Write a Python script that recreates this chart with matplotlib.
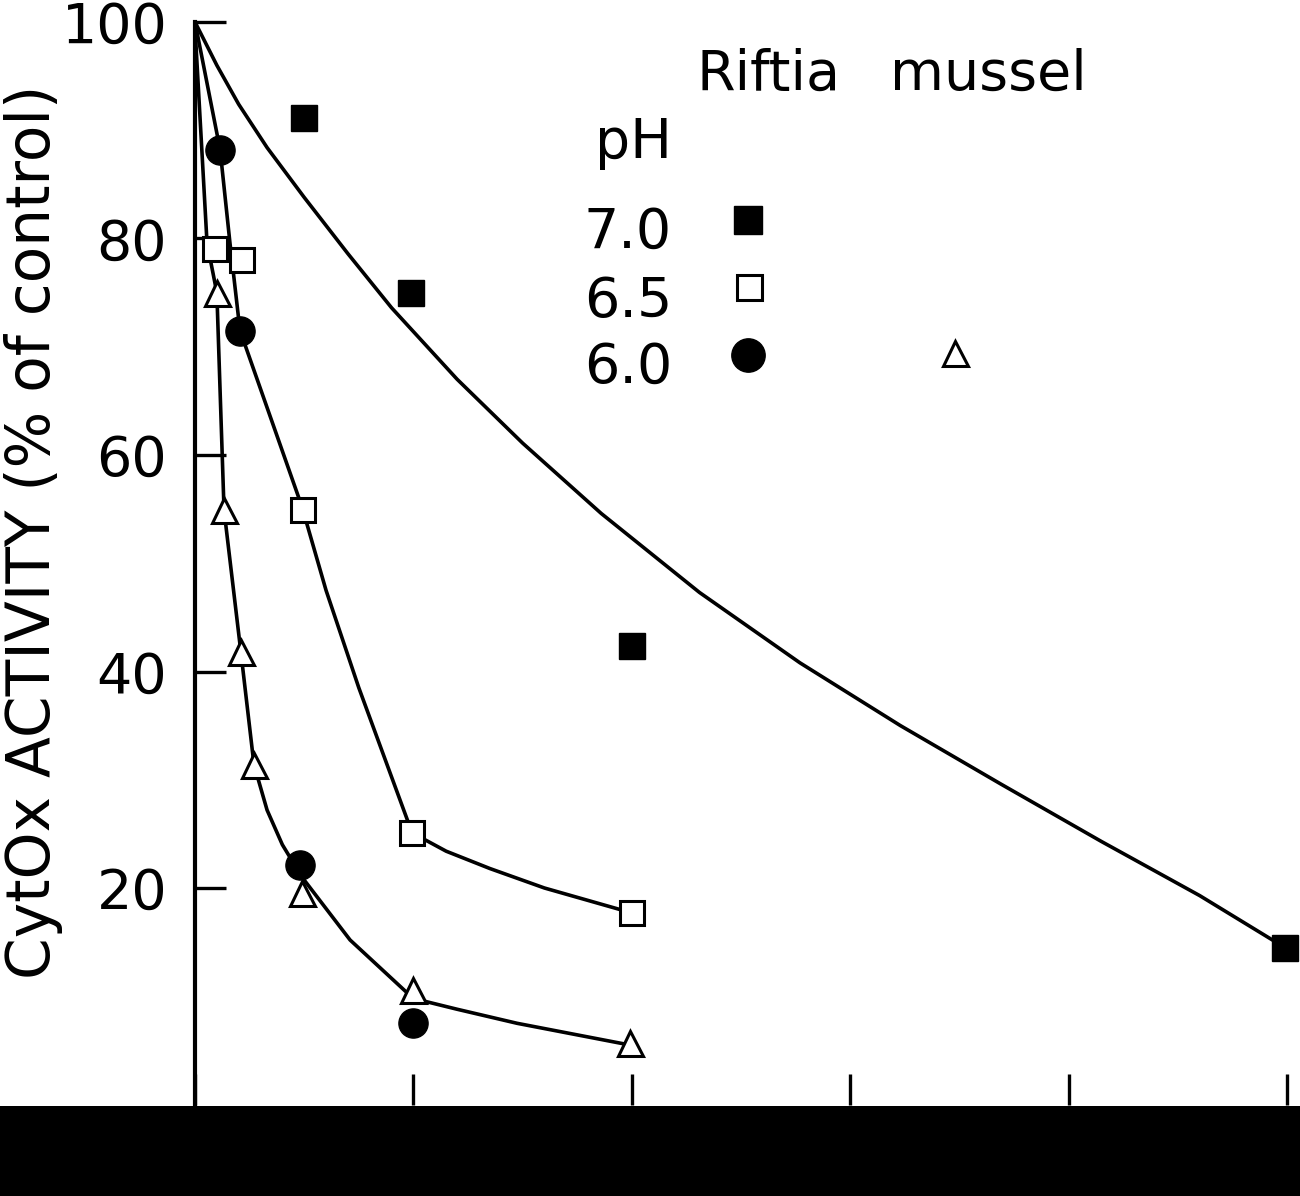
import matplotlib
matplotlib.use("Agg")
import matplotlib.pyplot as plt
from matplotlib.patches import Rectangle

# --- data (x in axis units 0..5, y = % of control) ---
# pH 7.0 (filled squares) and its fitted curve
ph70_x = [0.50, 0.99, 2.00, 4.99]
ph70_y = [91.1, 75.0, 42.4, 14.5]
ph70_curve_x = [0.0, 0.1, 0.2, 0.33, 0.5, 0.7, 0.9, 1.2, 1.5, 1.86, 2.31, 2.77, 3.23, 3.69, 4.15, 4.6, 4.99]
ph70_curve_y = [100.0, 96.0, 92.4, 88.4, 83.8, 78.6, 73.6, 67.0, 61.1, 54.6, 47.3, 40.8, 35.0, 29.6, 24.3, 19.3, 14.5]

# pH 6.5 (open squares) and its curve
ph65_x = [0.09, 0.215, 0.495, 0.994, 2.00]
ph65_y = [79.0, 78.0, 54.9, 25.1, 17.7]
ph65_curve_x = [0.0, 0.115, 0.16, 0.206, 0.49, 0.6, 0.75, 0.994, 1.15, 1.35, 1.6, 2.00]
ph65_curve_y = [100.0, 88.2, 79.6, 71.5, 55.2, 47.5, 38.5, 25.1, 23.4, 21.8, 20.0, 17.7]

# pH 6.0 (filled circles)
ph60_x = [0.115, 0.206, 0.48, 0.999]
ph60_y = [88.2, 71.5, 22.1, 7.5]

# mussel pH 6.0 (open triangles) and its curve
mus_x = [0.10, 0.133, 0.21, 0.27, 0.49, 0.999, 1.99]
mus_y = [75.0, 54.9, 41.8, 31.4, 19.5, 10.6, 5.7]
mus_curve_x = [0.0, 0.055, 0.10, 0.133, 0.21, 0.27, 0.33, 0.40, 0.49, 0.71, 0.999, 1.2, 1.475, 1.99]
mus_curve_y = [99.5, 79.6, 75.0, 54.9, 41.8, 31.4, 27.2, 24.0, 21.0, 15.2, 9.8, 8.8, 7.5, 5.5]

y_ticks = [20, 40, 60, 80, 100]
x_ticks = [0, 1, 2, 3, 4, 5]

W, H = 1300, 1196
fig = plt.figure(figsize=(13, 11.96), dpi=100)
plt.rcParams['font.family'] = ['DejaVu Sans']

# axes placed to match the scan (pixel positions)
x0_px, x5_px, y0_px, y100_px = 195, 1287, 1104.5, 22
ax = fig.add_axes([x0_px / W, (H - y0_px) / H, (x5_px - x0_px) / W, (y0_px - y100_px) / H])
ax.set_xlim(0, 5)
ax.set_ylim(0, 100)

lw = 2.6
for cx, cy in [(ph70_curve_x, ph70_curve_y), (ph65_curve_x, ph65_curve_y), (mus_curve_x, mus_curve_y)]:
    ax.plot(cx, cy, color='black', lw=lw, solid_capstyle='round', solid_joinstyle='round', zorder=2)

ax.plot(ph70_x, ph70_y, 's', ms=19, color='black', mec='black', clip_on=False, zorder=4)
ax.plot(ph65_x, ph65_y, 's', ms=17, mfc='white', mec='black', mew=2.2, clip_on=False, zorder=4)
ax.plot(ph60_x, ph60_y, 'o', ms=21, color='black', clip_on=False, zorder=4)
ax.plot(mus_x, mus_y, '^', ms=18, mfc='white', mec='black', mew=2.2, clip_on=False, zorder=5)

# spines / ticks
for s in ['top', 'right', 'bottom']:
    ax.spines[s].set_visible(False)
ax.spines['left'].set_linewidth(3)
ax.set_yticks(y_ticks)
ax.set_xticks(x_ticks)
ax.set_xticklabels([])
ax.tick_params(axis='both', direction='in', length=22, width=2.4, labelsize=40, pad=20)

# y label drawn as figure text so the baseline sits where the scan has it
fig.text(50 / W, 1 - 532 / H, 'CytOx ACTIVITY (% of control)', fontsize=43,
         rotation=90, rotation_mode='anchor', ha='center', va='baseline')

# hand-made key in the upper right
def ax_pt(px, py):
    return (px - x0_px) / (x5_px - x0_px), (y0_px - py) / (y0_px - y100_px)

fs = 40
ax.text(*ax_pt(697, 90), 'Riftia', transform=ax.transAxes, fontsize=fs, ha='left', va='baseline')
ax.text(*ax_pt(890, 90), 'mussel', transform=ax.transAxes, fontsize=fs, ha='left', va='baseline')
ax.text(*ax_pt(595, 158), 'pH', transform=ax.transAxes, fontsize=fs, ha='left', va='baseline')
ax.text(*ax_pt(672, 248), '7.0', transform=ax.transAxes, fontsize=fs, ha='right', va='baseline')
ax.text(*ax_pt(672, 317), '6.5', transform=ax.transAxes, fontsize=fs, ha='right', va='baseline')
ax.text(*ax_pt(672, 383), '6.0', transform=ax.transAxes, fontsize=fs, ha='right', va='baseline')

ax.plot(*ax_pt(748, 220), 's', ms=20, color='black', transform=ax.transAxes, clip_on=False)
ax.plot(*ax_pt(749, 287), 's', ms=18, mfc='white', mec='black', mew=2.2, transform=ax.transAxes, clip_on=False)
ax.plot(*ax_pt(748, 355), 'o', ms=24, color='black', transform=ax.transAxes, clip_on=False)
ax.plot(*ax_pt(955, 353), '^', ms=18, mfc='white', mec='black', mew=2.2, transform=ax.transAxes, clip_on=False)

# dark strip along the bottom of the scan
fig.patches.append(Rectangle((0, 0), 1, (H - 1106) / H, transform=fig.transFigure,
                             facecolor='black', edgecolor='none', zorder=10))

fig.savefig('out.png', dpi=100)
